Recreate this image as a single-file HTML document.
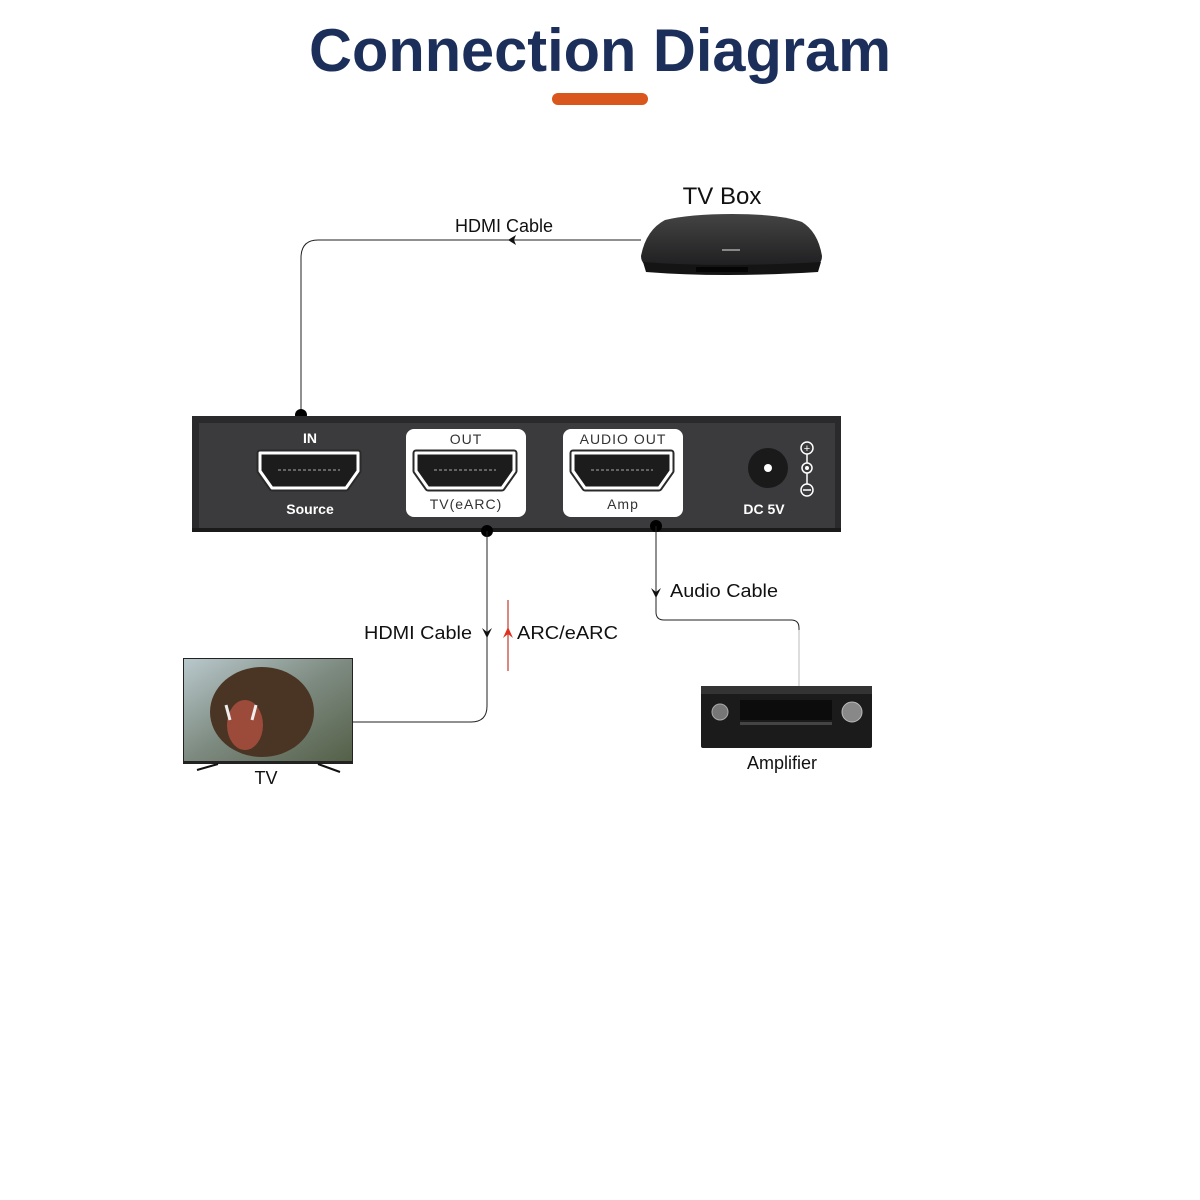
<!DOCTYPE html>
<html><head><meta charset="utf-8"><style>
html,body{margin:0;padding:0;background:#fff;}
svg{display:block;}
text{font-family:"Liberation Sans",sans-serif;}
</style></head><body>
<svg width="1200" height="1200" viewBox="0 0 1200 1200" xmlns="http://www.w3.org/2000/svg">
<defs>
<linearGradient id="sky" x1="0" y1="0" x2="1" y2="1">
<stop offset="0" stop-color="#b9c8cc"/><stop offset="0.5" stop-color="#7d8a80"/><stop offset="1" stop-color="#556048"/>
</linearGradient>
<linearGradient id="tvb" x1="0" y1="0" x2="0" y2="1">
<stop offset="0" stop-color="#444"/><stop offset="1" stop-color="#1e1e20"/>
</linearGradient>
<g id="port">
<path d="M2,2 h98 v18 l-12,17 h-74 l-12,-17 z" fill="#1c1c1c" stroke="#2a2a2a" stroke-width="7" stroke-linejoin="round"/>
<path d="M2,2 h98 v18 l-12,17 h-74 l-12,-17 z" fill="#1c1c1c" stroke="#fff" stroke-width="3" stroke-linejoin="round"/>
<line x1="20" y1="19" x2="82" y2="19" stroke="#aaa" stroke-width="1" stroke-dasharray="3,2"/>
</g>
</defs>
<text x="600" y="71" text-anchor="middle" font-size="60" font-weight="bold" fill="#1b2f5a" textLength="582" lengthAdjust="spacingAndGlyphs">Connection Diagram</text>
<rect x="552" y="93" width="96" height="12" rx="6" fill="#d9561c"/>

<text x="722" y="204" text-anchor="middle" font-size="24" fill="#111">TV Box</text>
<path d="M665,220 Q690,214 732,214 Q780,214 802,222 Q818,232 822,256 Q822,266 810,268 L654,268 Q641,266 641,256 Q646,230 665,220 Z" fill="url(#tvb)"/>
<path d="M643,262 Q722,268 821,262 L818,272 Q722,278 646,272Z" fill="#141414"/>
<rect x="696" y="267" width="52" height="5" fill="#050505"/>
<rect x="722" y="249" width="18" height="2" fill="#888"/>

<text x="504" y="232" text-anchor="middle" font-size="18" fill="#111">HDMI Cable</text>
<path d="M641,240 H318 Q301,240 301,258 V415" fill="none" stroke="#222" stroke-width="1"/>
<path d="M508,240 L516,235 L514,240 L516,245 Z" fill="#111"/>
<circle cx="301" cy="415" r="6" fill="#000"/>

<rect x="192" y="416" width="649" height="116" fill="#2a2a2c"/>
<rect x="199" y="423" width="636" height="106" fill="#3b3b3d"/>
<rect x="192" y="528" width="649" height="4" fill="#1a1a1a"/>
<text x="310" y="443" text-anchor="middle" font-size="14" font-weight="bold" fill="#fff">IN</text>
<use href="#port" x="258" y="451"/>
<text x="310" y="514" text-anchor="middle" font-size="14" fill="#fff" font-weight="bold">Source</text>

<rect x="406" y="429" width="120" height="88" rx="8" fill="#fff"/>
<text x="466" y="444" text-anchor="middle" font-size="14" fill="#333" letter-spacing="1">OUT</text>
<use href="#port" x="414" y="451"/>
<text x="466" y="509" text-anchor="middle" font-size="14" fill="#333" letter-spacing="1">TV(eARC)</text>

<rect x="563" y="429" width="120" height="88" rx="8" fill="#fff"/>
<text x="623" y="444" text-anchor="middle" font-size="14" fill="#333" letter-spacing="1">AUDIO OUT</text>
<use href="#port" x="571" y="451"/>
<text x="623" y="509" text-anchor="middle" font-size="14" fill="#333" letter-spacing="1">Amp</text>

<circle cx="768" cy="468" r="20" fill="#1a1a1a"/>
<circle cx="768" cy="468" r="4" fill="#fff"/>
<text x="764" y="514" text-anchor="middle" font-size="14" font-weight="bold" fill="#fff">DC 5V</text>
<line x1="807" y1="448" x2="807" y2="490" stroke="#fff" stroke-width="1.5"/>
<circle cx="807" cy="448" r="6" fill="#3b3b3d" stroke="#fff" stroke-width="1.5"/>
<circle cx="807" cy="468" r="5" fill="#3b3b3d" stroke="#fff" stroke-width="1.5"/>
<circle cx="807" cy="468" r="2" fill="#fff"/>
<circle cx="807" cy="490" r="6" fill="#3b3b3d" stroke="#fff" stroke-width="1.5"/>
<text x="807" y="452" text-anchor="middle" font-size="11" fill="#fff">+</text>
<line x1="803" y1="490" x2="811" y2="490" stroke="#fff" stroke-width="1.5"/>

<circle cx="487" cy="531" r="6" fill="#000"/>
<path d="M487,531 V706 Q487,722 471,722 H353" fill="none" stroke="#222" stroke-width="1"/>
<path d="M482,628 L487,638 L492,628 L487,632 Z" fill="#111"/>
<text x="472" y="639" text-anchor="end" font-size="18" fill="#111" textLength="108" lengthAdjust="spacingAndGlyphs">HDMI Cable</text>
<line x1="508" y1="600" x2="508" y2="671" stroke="#c0392b" stroke-width="1.2"/>
<path d="M503,638 L508,627 L513,638 L508,634 Z" fill="#e03020"/>
<text x="517" y="639" font-size="18" fill="#111" textLength="101" lengthAdjust="spacingAndGlyphs">ARC/eARC</text>

<circle cx="656" cy="526" r="6" fill="#000"/>
<path d="M656,526 V612 Q656,620 664,620 H791 Q799,620 799,628 V686" fill="none" stroke="#222" stroke-width="1"/>
<line x1="799" y1="630" x2="799" y2="686" stroke="#bbb" stroke-width="1"/>
<path d="M651,588 L656,598 L661,588 L656,592 Z" fill="#111"/>
<text x="670" y="597" font-size="18" fill="#111" textLength="108" lengthAdjust="spacingAndGlyphs">Audio Cable</text>

<rect x="183" y="658" width="170" height="106" fill="#222"/>
<rect x="184" y="659" width="168" height="102" fill="url(#sky)"/>
<ellipse cx="262" cy="712" rx="52" ry="45" fill="#4a3525"/>
<ellipse cx="245" cy="725" rx="18" ry="25" fill="#9c4a3a"/>
<path d="M226,705 L230,720 M256,705 L252,720" stroke="#eee" stroke-width="3"/>
<line x1="197" y1="770" x2="218" y2="764" stroke="#111" stroke-width="2"/>
<line x1="318" y1="764" x2="340" y2="772" stroke="#111" stroke-width="2"/>
<text x="266" y="784" text-anchor="middle" font-size="18" fill="#111">TV</text>

<rect x="701" y="686" width="171" height="62" rx="2" fill="#1b1b1b"/>
<rect x="701" y="686" width="171" height="8" fill="#333"/>
<rect x="740" y="700" width="92" height="20" fill="#0c0c0c"/>
<rect x="740" y="722" width="92" height="3" fill="#444"/>
<circle cx="720" cy="712" r="8" fill="#777" stroke="#aaa"/>
<circle cx="852" cy="712" r="10" fill="#888" stroke="#bbb"/>
<text x="782" y="769" text-anchor="middle" font-size="18" fill="#111">Amplifier</text>
</svg>
</body></html>
